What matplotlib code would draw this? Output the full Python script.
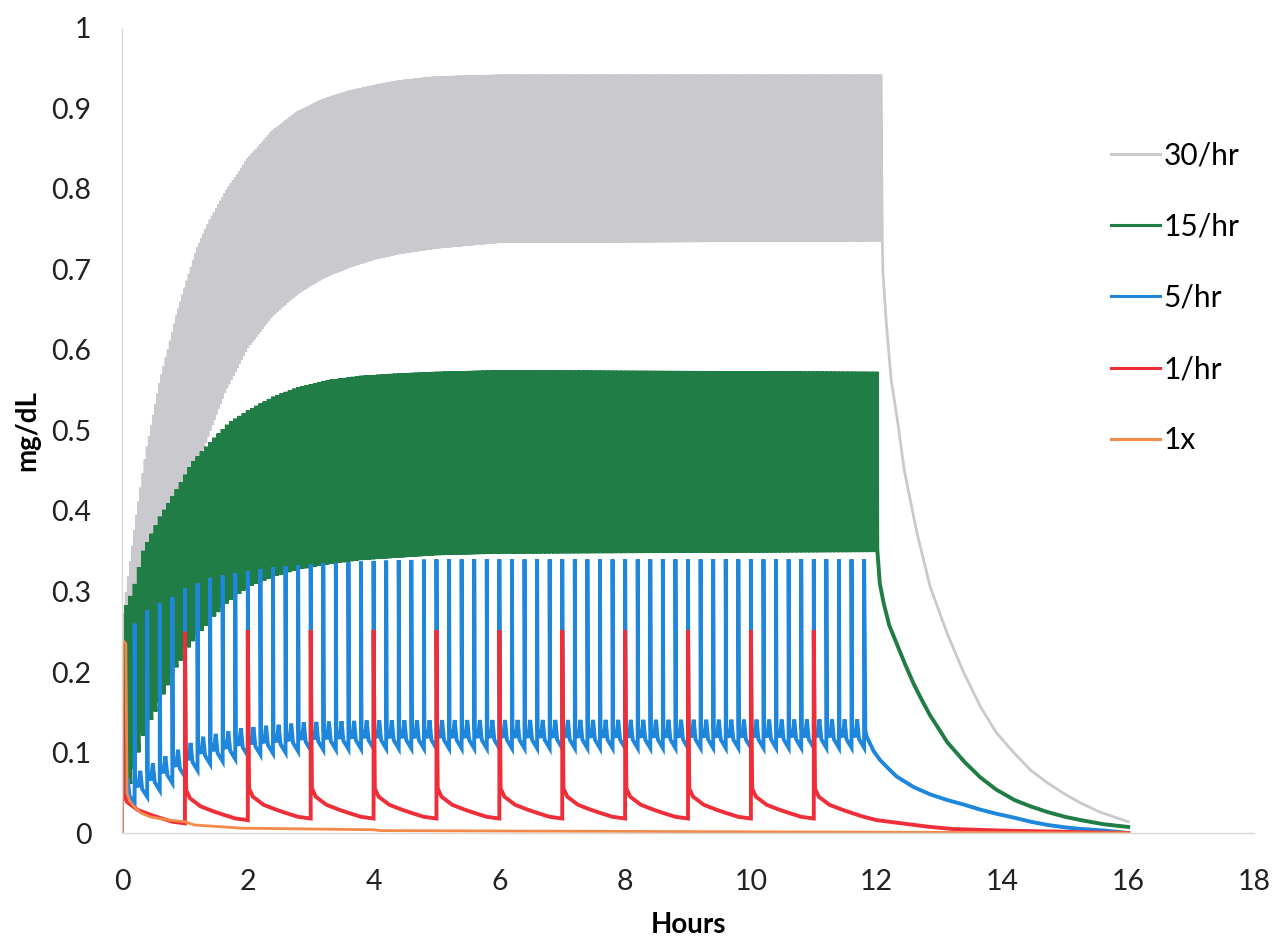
import numpy as np
import matplotlib.pyplot as plt

plt.rcParams["font.family"] = ["Lato", "DejaVu Sans"]

# 1x: single dose, read point by point (hours, mg/dL)
ONE_X_T = [0.0, 0.01, 0.06, 0.08, 0.12, 0.2, 0.3, 0.45, 0.75, 1.0, 1.15, 1.9, 3.0, 4.0, 4.1, 8.0, 12.0, 16.0]
ONE_X_V = [0.0, 0.24, 0.235, 0.05, 0.04, 0.032, 0.025, 0.02, 0.016, 0.014, 0.010, 0.006, 0.005, 0.004, 0.003, 0.002, 0.001, 0.0]

# 30/hr: peak and trough envelopes during dosing, then washout
GRAY_TAU, GRAY_DOSES = 1 / 30, 363
GRAY_ENV_T = [0.0, 0.05, 0.23, 0.39, 0.6, 0.86, 1.18, 1.4, 1.65, 2.0, 2.4, 2.8, 3.2, 3.6, 4.0, 4.4, 5.0, 6.0, 12.1]
GRAY_PEAK = [0.24, 0.29, 0.393, 0.476, 0.559, 0.641, 0.724, 0.762, 0.797, 0.838, 0.873, 0.897, 0.912, 0.922,
             0.929, 0.935, 0.94, 0.942, 0.942]
GRAY_TROUGH = [0.0, 0.10, 0.20, 0.26, 0.327, 0.373, 0.45, 0.50, 0.55, 0.603, 0.643, 0.670, 0.689, 0.702,
               0.712, 0.719, 0.726, 0.733, 0.735]
GRAY_WASH_T = [12.09, 12.1, 12.15, 12.23, 12.33, 12.44, 12.64, 12.85, 13.12, 13.38, 13.65, 13.9, 14.19,
               14.45, 14.72, 15.0, 15.25, 15.55, 15.89, 16.0]
GRAY_WASH_V = [0.733, 0.696, 0.637, 0.563, 0.513, 0.45, 0.373, 0.306, 0.248, 0.2, 0.157, 0.125, 0.099,
               0.078, 0.062, 0.048, 0.037, 0.026, 0.017, 0.014]

# 15/hr
GREEN_TAU, GREEN_DOSES = 1 / 15, 181
GREEN_ENV_T = [0.0, 0.07, 0.17, 0.33, 0.6, 0.86, 1.11, 1.38, 1.69, 2.0, 2.4, 2.8, 3.3, 3.8, 4.4, 5.0, 6.0, 12.0]
GREEN_PEAK = [0.24, 0.285, 0.30, 0.35, 0.393, 0.426, 0.46, 0.484, 0.509, 0.525, 0.542, 0.554, 0.563, 0.568,
              0.571, 0.573, 0.575, 0.573]
GREEN_TROUGH = [0.0, 0.045, 0.07, 0.12, 0.161, 0.205, 0.236, 0.262, 0.287, 0.305, 0.318, 0.327, 0.334, 0.339,
                0.342, 0.345, 0.347, 0.349]
GREEN_WASH_T = [12.01, 12.05, 12.11, 12.2, 12.32, 12.45, 12.59, 12.72, 12.85, 13.0, 13.12, 13.4, 13.65, 13.9,
                14.19, 14.45, 14.72, 15.0, 15.25, 15.6, 16.0]
GREEN_WASH_V = [0.352, 0.31, 0.286, 0.258, 0.235, 0.21, 0.185, 0.165, 0.146, 0.128, 0.113, 0.088, 0.069, 0.054,
                0.041, 0.033, 0.026, 0.02, 0.016, 0.011, 0.0075]

# 5/hr
BLUE_TAU, BLUE_DOSES = 0.2, 60
BLUE_ENV_T = [0.0, 0.2, 0.4, 0.6, 0.8, 1.0, 1.2, 1.4, 1.6, 1.8, 2.0, 2.4, 2.6, 3.0, 4.0, 5.0, 12.0]
BLUE_PEAK = [0.24, 0.26, 0.277, 0.285, 0.293, 0.304, 0.31, 0.317, 0.32, 0.323, 0.325, 0.33, 0.331, 0.334, 0.338, 0.34, 0.34]
BLUE_TROUGH = [0.0, 0.037, 0.045, 0.053, 0.062, 0.07, 0.078, 0.086, 0.089, 0.092, 0.096, 0.099, 0.10, 0.103, 0.105, 0.105, 0.106]
BLUE_WASH_T = [11.82, 11.84, 11.95, 12.05, 12.2, 12.32, 12.59, 12.85, 13.12, 13.4, 13.65, 13.9, 14.19, 14.45,
               14.72, 15.0, 15.25, 15.63, 16.0]
BLUE_WASH_V = [0.128, 0.12, 0.102, 0.091, 0.079, 0.07, 0.057, 0.048, 0.041, 0.035, 0.029, 0.024, 0.019, 0.014,
               0.010, 0.007, 0.005, 0.003, 0.0]

# 1/hr
RED_TAU, RED_DOSES = 1.0, 12
RED_ENV_T = [0.0, 1.0, 2.0, 3.0, 11.0]
RED_PEAK = [0.24, 0.25, 0.252, 0.252, 0.252]
RED_TROUGH = [0.0, 0.012, 0.016, 0.018, 0.018]
RED_WASH_T = [11.02, 11.08, 11.25, 11.45, 11.6, 11.8, 12.0, 12.4, 12.8, 13.2, 14.0, 15.0, 16.0]
RED_WASH_V = [0.055, 0.045, 0.035, 0.029, 0.025, 0.02, 0.016, 0.012, 0.008, 0.005, 0.003, 0.0015, 0.0]

# shape of one dosing interval, as fraction of (peak - next trough)
BAND_SHAPE_F = [0.0, 0.1, 0.3, 1.0]
BAND_SHAPE_S = [1.0, 0.5, 0.25, 0.0]
BLUE_SHAPE_F = [0.0, 0.04, 0.3, 0.45, 0.6, 1.0]
BLUE_SHAPE_S = [1.0, 0.10, 0.055, 0.15, 0.045, 0.0]
RED_SHAPE_F = [0.0, 0.02, 0.08, 0.25, 0.45, 0.6, 0.8, 1.0]
RED_SHAPE_S = [1.0, 0.16, 0.116, 0.073, 0.047, 0.03, 0.009, 0.0]

X_TICKS = list(range(0, 19, 2))
Y_TICKS = [0, 0.1, 0.2, 0.3, 0.4, 0.5, 0.6, 0.7, 0.8, 0.9, 1]
Y_LABELS = ["0", "0.1", "0.2", "0.3", "0.4", "0.5", "0.6", "0.7", "0.8", "0.9", "1"]


def dose_train(tau, n_doses, env_t, peaks, troughs, shape_f, shape_s, wash_t, wash_v):
    dose_times = np.arange(n_doses) * tau
    ts, vs = [0.0], [0.0]
    for i, t0 in enumerate(dose_times):
        pk = np.interp(t0, env_t, peaks)
        ts.append(t0)
        vs.append(pk)
        if i == n_doses - 1:
            break
        t1 = dose_times[i + 1]
        tr = np.interp(t1, env_t, troughs)
        for f, s in zip(shape_f[1:], shape_s[1:]):
            ts.append(t0 + f * (t1 - t0))
            vs.append(tr + s * (pk - tr))
    return ts + list(wash_t), vs + list(wash_v)


fig = plt.figure(figsize=(12.86, 9.42), dpi=100)
ax = fig.add_axes([0.0949, 0.1157, 0.8802, 0.8546])

series = [
    ("30/hr", "#C9C9CE", 2.0,
     dose_train(GRAY_TAU, GRAY_DOSES, GRAY_ENV_T, GRAY_PEAK, GRAY_TROUGH,
                BAND_SHAPE_F, BAND_SHAPE_S, GRAY_WASH_T, GRAY_WASH_V)),
    ("15/hr", "#1F7D45", 2.8,
     dose_train(GREEN_TAU, GREEN_DOSES, GREEN_ENV_T, GREEN_PEAK, GREEN_TROUGH,
                BAND_SHAPE_F, BAND_SHAPE_S, GREEN_WASH_T, GREEN_WASH_V)),
    ("5/hr", "#1E87DC", 2.8,
     dose_train(BLUE_TAU, BLUE_DOSES, BLUE_ENV_T, BLUE_PEAK, BLUE_TROUGH,
                BLUE_SHAPE_F, BLUE_SHAPE_S, BLUE_WASH_T, BLUE_WASH_V)),
    ("1/hr", "#EE2F3A", 2.8,
     dose_train(RED_TAU, RED_DOSES, RED_ENV_T, RED_PEAK, RED_TROUGH,
                RED_SHAPE_F, RED_SHAPE_S, RED_WASH_T, RED_WASH_V)),
    ("1x", "#F38A4A", 2.0, (ONE_X_T, ONE_X_V)),
]

for label, color, lw, (ts, vs) in series:
    ax.plot(ts, vs, color=color, linewidth=lw, label=label, solid_joinstyle="miter")

ax.set_xlim(0, 18)
ax.set_ylim(0, 1)
ax.set_xticks(X_TICKS)
ax.set_yticks(Y_TICKS)
ax.set_yticklabels(Y_LABELS)
ax.tick_params(axis="both", length=0, labelsize=20.5, colors="#222222")
ax.tick_params(axis="y", pad=22)
ax.tick_params(axis="x", pad=26)
for side in ("top", "right"):
    ax.spines[side].set_visible(False)
for side in ("left", "bottom"):
    ax.spines[side].set_color("#D9D9D9")
    ax.spines[side].set_linewidth(1.0)

ax.set_xlabel("Hours", fontsize=20, fontweight="bold", labelpad=12)
ax.set_ylabel("mg/dL", fontsize=20, fontweight="bold", labelpad=8)

leg = ax.legend(loc="upper left", bbox_to_anchor=(0.864, 0.85), bbox_transform=fig.transFigure,
                frameon=False, fontsize=21.5, handlelength=1.65, handletextpad=0.1,
                labelspacing=1.45, borderpad=0, borderaxespad=0)
for line in leg.get_lines():
    line.set_linewidth(2.2)

fig.savefig("out.png", dpi=100)
